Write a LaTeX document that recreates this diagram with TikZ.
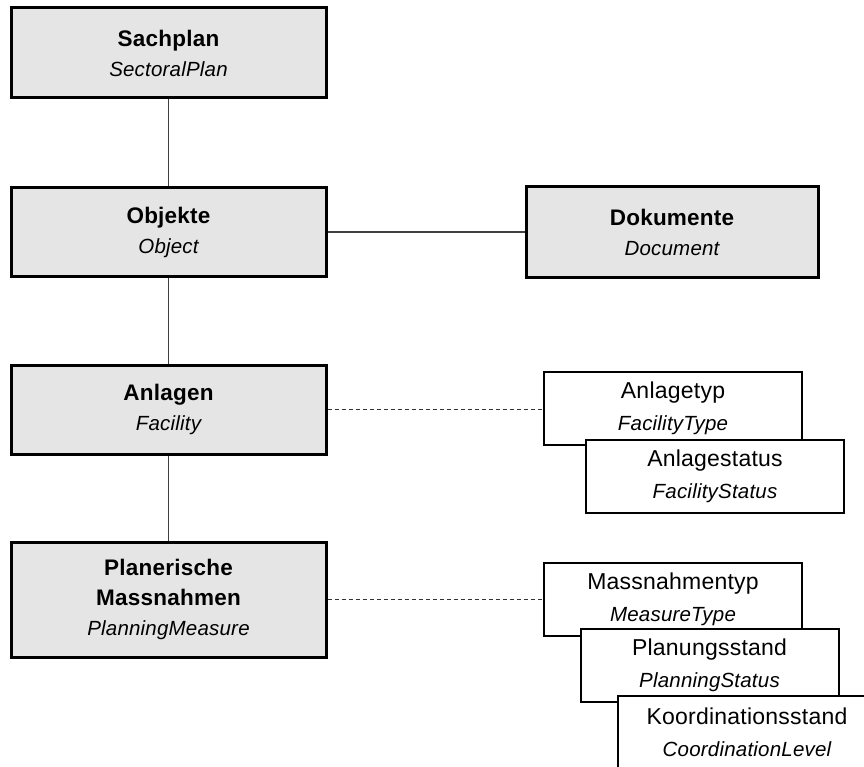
\documentclass[tikz,border=0pt]{standalone}
\usepackage{fontspec}
\setmainfont{Liberation Sans}[LetterSpace=1]
\usepackage{tikz}
\usetikzlibrary{positioning}

\newcommand{\de}[1]{{\bfseries #1}}
\newcommand{\en}[1]{{\itshape\fontsize{20.5}{30}\selectfont #1}}

\begin{document}
\begin{tikzpicture}[
            x=1pt, y=-1pt,
            mainbox/.style = {rectangle, draw, line width=3pt, fill=black!10, inner sep=0pt,
                              minimum width=315pt, align=center, font=\fontsize{22.5}{30}\selectfont},
            listbox/.style = {rectangle, draw, line width=2pt, fill=white, inner sep=0pt,
                              minimum width=258pt, minimum height=73pt, align=center,
                              font=\fontsize{23}{32}\selectfont},
            conn/.style = {draw=black!75, line width=1.8pt},
            dashconn/.style = {draw=black!80, line width=1pt, dash pattern=on 4pt off 3pt},
        ]

            \useasboundingbox (0,0) rectangle (864,767);
            \clip (0,0) rectangle (864,767);

            % Main classes
            \node[mainbox, minimum height=90pt] (sach) at (168.5,53) {\de{Sachplan}\\\en{SectoralPlan}};
            \node[mainbox, minimum height=88pt] (obj) at (168.5,232) {\de{Objekte}\\\en{Object}};
            \node[mainbox, minimum height=90pt, minimum width=292pt] (doku) at (672,232) {\de{Dokumente}\\\en{Document}};
            \node[mainbox, minimum height=89pt] (anl) at (168.5,409.5) {\de{Anlagen}\\\en{Facility}};
            \node[mainbox, minimum height=115pt] (plan) at (168.5,599.5) {\de{Planerische}\\\de{Massnahmen}\\\en{PlanningMeasure}};

            % Code lists (stacked)
            \node[listbox] (atyp) at (673,408) {Anlagetyp\\\en{FacilityType}};
            \node[listbox] (astat) at (715,476) {Anlagestatus\\\en{FacilityStatus}};
            \node[listbox] (mtyp) at (673,599) {Massnahmentyp\\\en{MeasureType}};
            \node[listbox] (pstand) at (709.5,665) {Planungsstand\\\en{PlanningStatus}};
            \node[listbox] (kstand) at (747,732) {Koordinationsstand\\\en{CoordinationLevel}};

            % Associations
            \draw[conn] (sach) -- (obj);
            \draw[conn] (obj) -- (doku);
            \draw[conn] (obj) -- (anl);
            \draw[conn] (anl) -- (plan);

            % Links to code lists
            \draw[dashconn] (anl.east) -- (anl.east -| atyp.west);
            \draw[dashconn] (plan.east) -- (plan.east -| mtyp.west);

        \end{tikzpicture}
\end{document}
